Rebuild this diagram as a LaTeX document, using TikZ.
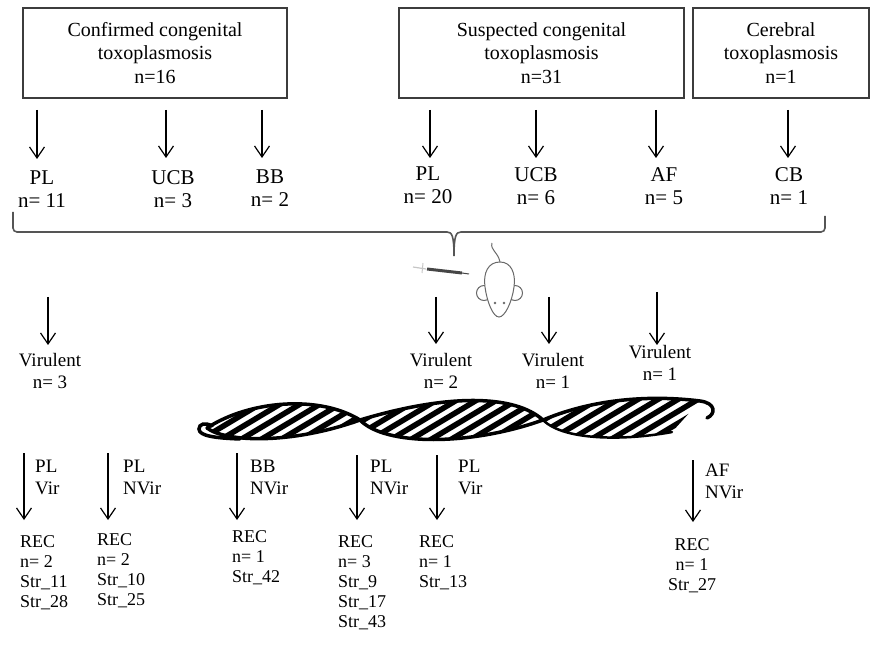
\documentclass[tikz,border=0pt]{standalone}
\usepackage{fontspec}
\setmainfont{Liberation Serif}
\usetikzlibrary{arrows.meta}
\definecolor{boxGray}{RGB}{60,60,60}
\definecolor{braceGray}{RGB}{85,85,85}
\definecolor{mouseGray}{RGB}{105,105,105}
\definecolor{syringeGray}{RGB}{70,70,70}

\begin{document}
\begin{tikzpicture}[x=1pt, y=-1pt,
			group/.style={
				draw=boxGray,
				line width=1.3pt,
				align=center,
				inner sep=0pt,
				minimum height=90pt,
				font=\fontsize{20}{23.5}\selectfont
			},
			sample/.style={
				anchor=north,
				align=center,
				inner sep=0pt,
				font=\fontsize{21}{23}\selectfont
			},
			virulent/.style={
				anchor=north,
				align=center,
				inner sep=0pt,
				font=\fontsize{19}{22}\selectfont
			},
			tag/.style={
				anchor=north west,
				align=left,
				inner sep=0pt,
				font=\fontsize{19}{22}\selectfont
			},
			rec/.style={
				anchor=north west,
				align=left,
				inner sep=0pt,
				font=\fontsize{18}{20}\selectfont
			},
			arr/.style={
				-{Straight Barb[length=11pt,width=15pt]},
				line width=1.2pt
			},
			braceline/.style={
				draw=braceGray,
				line width=1.6pt
			},
			strand/.style={
				line width=3.5pt,
				line cap=round
			},
			stripe/.style={
				line width=5.5pt
			}
			]
			
			\useasboundingbox (0,0) rectangle (871,647);
			
			% Patient groups
			\node[group, minimum width=264pt] (conf) at (155,53) {Confirmed congenital\\toxoplasmosis\\n=16};
			\node[group, minimum width=285pt] (susp) at (541.5,53) {Suspected congenital\\toxoplasmosis\\n=31};
			\node[group, minimum width=176pt] (cereb) at (781,53) {Cerebral\\toxoplasmosis\\n=1};
			
			% Samples
			\node[sample] (pl1) at (42,171) {PL\\n= 11};
			\node[sample] (ucb1) at (173,170) {UCB\\n= 3};
			\node[sample] (bb1) at (270,170) {BB\\n= 2};
			\node[sample] (pl2) at (428,167) {PL\\n= 20};
			\node[sample] (ucb2) at (536,167) {UCB\\n= 6};
			\node[sample] (af2) at (664,167) {AF\\n= 5};
			\node[sample] (cb3) at (789,167) {CB\\n= 1};
			
			\coordinate (s1) at (37,110);
			\coordinate (s2) at (166,110);
			\coordinate (s3) at (262,110);
			\coordinate (s4) at (430,110);
			\coordinate (s5) at (536,110);
			\coordinate (s6) at (656,110);
			\coordinate (s7) at (788,110);
			
			\draw[arr, shorten >=12pt] (s1) -- (s1 |- pl1.north);
			\draw[arr, shorten >=12pt] (s2) -- (s2 |- ucb1.north);
			\draw[arr, shorten >=12pt] (s3) -- (s3 |- bb1.north);
			\draw[arr, shorten >=9pt] (s4) -- (s4 |- pl2.north);
			\draw[arr, shorten >=9pt] (s5) -- (s5 |- ucb2.north);
			\draw[arr, shorten >=9pt] (s6) -- (s6 |- af2.north);
			\draw[arr, shorten >=9pt] (s7) -- (s7 |- cb3.north);
			
			% Brace over all samples
			\draw[braceline, rounded corners=4pt] (13,212) -- (13,232) -- (447,232);
			\draw[braceline] (447,232) .. controls (452,232) and (454,236) .. (454,256)
				.. controls (454,236) and (456,232) .. (461,232);
			\draw[braceline, rounded corners=4pt] (461,232) -- (825,232) -- (825,216);
			
			% Syringe
			\draw[gray!45, line width=1.2pt] (413,267) -- (426,269);
			\draw[gray!45, line width=1pt] (423,263) -- (422,273);
			\draw[syringeGray, line width=3pt] (427,269) -- (462,273);
			\draw[syringeGray, line width=1pt] (462,273) -- (469,274);
			
			% Mouse
			\draw[mouseGray, line width=1pt] (492,243) .. controls (490,250) and (498,252) .. (500,262);
			\draw[mouseGray, line width=1pt, fill=white] (484,293) circle (7.5);
			\draw[mouseGray, line width=1pt, fill=white] (515,293) circle (7.5);
			\draw[mouseGray, line width=1pt, fill=white] (500,262)
				.. controls (488,262) and (483,273) .. (485,287)
				.. controls (487,302) and (493,317) .. (499,317)
				.. controls (505,317) and (512,302) .. (514,287)
				.. controls (516,273) and (511,262) .. (500,262) -- cycle;
			\fill[mouseGray] (495,303) circle (1.3) (504,303) circle (1.3);
			
			% Virulent isolates
			\node[virulent] (vir1) at (50,353) {Virulent\\n= 3};
			\node[virulent] (vir2) at (441,353) {Virulent\\n= 2};
			\node[virulent] (vir3) at (553,353) {Virulent\\n= 1};
			\node[virulent] (vir4) at (660,345) {Virulent\\n= 1};
			
			\coordinate (v1) at (48,297);
			\coordinate (v2) at (436,297);
			\coordinate (v3) at (549,297);
			\coordinate (v4) at (657,292);
			
			\draw[arr, shorten >=8pt] (v1) -- (v1 |- vir1.north);
			\draw[arr, shorten >=9pt] (v2) -- (v2 |- vir2.north);
			\draw[arr, shorten >=9pt] (v3) -- (v3 |- vir3.north);
			\draw[arr, shorten >=0pt] (v4) -- (v4 |- vir4.north);
			
			% DNA helix
			\begin{scope}
				\clip (207,428) .. controls (250,400) and (320,395) .. (360,420)
					.. controls (290,445) and (225,442) .. (207,428);
				\foreach \x in {140,160,...,360}
					\draw[stripe] (\x,452) -- ++(92,-55);
			\end{scope}
			\begin{scope}
				\clip (360,420) .. controls (450,393) and (515,395) .. (543,420)
					.. controls (470,446) and (385,446) .. (360,420);
				\foreach \x in {290,310,...,545}
					\draw[stripe] (\x,452) -- ++(92,-55);
			\end{scope}
			\begin{scope}
				\clip (543,420) .. controls (600,396) and (660,396) .. (700,401)
					-- (672,432) .. controls (630,440) and (565,442) .. (543,420);
				\foreach \x in {470,490,...,690}
					\draw[stripe] (\x,452) -- ++(92,-55);
			\end{scope}
			
			\draw[strand] (207,428) .. controls (250,400) and (320,395) .. (360,420);
			\draw[strand] (240,439) .. controls (215,438) and (199,436) .. (199,429)
				.. controls (199,424) and (205,422) .. (212,426);
			\draw[strand] (207,428) .. controls (225,442) and (290,445) .. (360,420);
			\draw[strand] (360,420) .. controls (450,393) and (515,395) .. (543,420);
			\draw[strand] (360,420) .. controls (385,446) and (470,446) .. (543,420);
			\draw[strand] (543,420) .. controls (600,396) and (660,396) .. (700,401)
				.. controls (716,403) and (716,414) .. (707,418);
			\draw[line width=2.5pt, line cap=round] (543,420) .. controls (565,442) and (630,440) .. (672,432);
			
			% Recombinant strains
			\node[tag] (tag1) at (35,460) {PL\\Vir};
			\node[tag] (tag2) at (123,460) {PL\\NVir};
			\node[tag] (tag3) at (250,460) {BB\\NVir};
			\node[tag] (tag4) at (370,460) {PL\\NVir};
			\node[tag] (tag5) at (458,460) {PL\\Vir};
			\node[tag] (tag6) at (705,464) {AF\\NVir};
			
			\node[rec] (rec1) at (20,535) {REC\\n= 2\\Str\_11\\Str\_28};
			\node[rec] (rec2) at (97,533) {REC\\n= 2\\Str\_10\\Str\_25};
			\node[rec] (rec3) at (232,530) {REC\\n= 1\\Str\_42};
			\node[rec] (rec4) at (338,535) {REC\\n= 3\\Str\_9\\Str\_17\\Str\_43};
			\node[rec] (rec5) at (419,535) {REC\\n= 1\\Str\_13};
			\node[rec, anchor=north, align=center] (rec6) at (692,538) {REC\\n= 1\\Str\_27};
			
			\coordinate (b1) at (24,453);
			\coordinate (b2) at (108,453);
			\coordinate (b3) at (237,453);
			\coordinate (b4) at (357,455);
			\coordinate (b5) at (437,455);
			\coordinate (b6) at (693,460);
			
			\draw[arr, shorten >=15pt] (b1) -- (b1 |- rec1.north);
			\draw[arr, shorten >=13pt] (b2) -- (b2 |- rec2.north);
			\draw[arr, shorten >=10pt] (b3) -- (b3 |- rec3.north);
			\draw[arr, shorten >=15pt] (b4) -- (b4 |- rec4.north);
			\draw[arr, shorten >=15pt] (b5) -- (b5 |- rec5.north);
			\draw[arr, shorten >=16pt] (b6) -- (b6 |- rec6.north);
			
		\end{tikzpicture}
\end{document}
